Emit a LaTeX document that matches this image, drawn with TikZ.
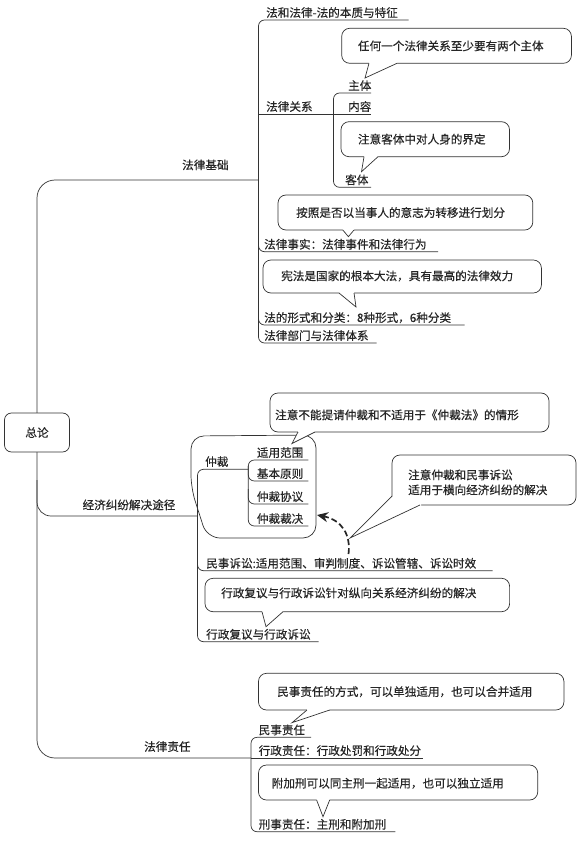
\documentclass[tikz,border=0pt]{standalone}
\usepackage{fontspec}
\newfontfamily\cjk[FakeBold=0.4]{Noto Sans CJK SC}
\usetikzlibrary{arrows.meta}
\begin{document}
\begin{tikzpicture}[x=1pt,y=-1pt,
  line/.style={draw=black!80, line width=0.7pt},
  branch/.style={line, rounded corners=6pt},
  lbl/.style={inner sep=0pt, anchor=base west, text=black!85, font=\cjk\fontsize{11.6}{14}\selectfont},
  notebox/.style={line, rounded corners=8pt, fill=white},
  rootbox/.style={line, rounded corners=7pt, fill=white, minimum width=65pt, minimum height=39pt, inner sep=0pt, text=black!85, font=\cjk\fontsize{11.6}{14}\selectfont},
]
\useasboundingbox (0,0) rectangle (580,842);

% main spine
\draw[branch, rounded corners=18pt] (258.5,180) -| (37,758) -- (251,758);
\draw[branch, rounded corners=14pt] (37,480) |- (197.5,516);
\node[rootbox] (root) at (37,432.5) {总论};
\node[lbl] (jc) at (182,169.3) {法律基础};
\node[lbl] (jj) at (82.4,509.3) {经济纠纷解决途径};
\node[lbl] (zr) at (144,751) {法律责任};

% 法律基础
\draw[branch] (408.5,20) -| (258.5,343) -- (376.5,343);
\draw[line] (258.5,114) -- (371,114);
\draw[branch] (258.5,230) |- (438,251.7);
\draw[branch] (258.5,300) |- (464.6,325);
\draw[branch] (371,93) -| (333.5,187.3) -- (371,187.3);
\node[lbl] (fl) at (266,17) {法和法律-法的本质与特征};
\node[lbl] (gx) at (266,111) {法律关系};
\node[lbl] (zt) at (348,90) {主体};
\node[lbl] (nr) at (348,111) {内容};
\node[lbl] (kt) at (345,184.3) {客体};
\node[lbl] (sj) at (264,248.7) {法律事实：法律事件和法律行为};
\node[lbl] (xs) at (264,322) {法的形式和分类：8种形式，6种分类};
\node[lbl] (bm) at (264,340) {法律部门与法律体系};

\draw[notebox] (341.7,28.3) rectangle (571.4,63.3);
\fill[white] (369,61.5) -- (369,63.3) -- (365,78) -- (397,63.3) -- (397,61.5) -- cycle;
\draw[line] (369,63.3) -- (365,78) -- (397,63.3);
\node[lbl] (n1) at (357.8,50.3) {任何一个法律关系至少要有两个主体};

\draw[notebox] (341,121.7) rectangle (509.5,156.7);
\fill[white] (364,155) -- (364,156.7) -- (361.5,171.7) -- (378,156.7) -- (378,155) -- cycle;
\draw[line] (364,156.7) -- (361.5,171.7) -- (378,156.7);
\node[lbl] (n2) at (357.8,143.6) {注意客体中对人身的界定};

\draw[notebox] (278,195) rectangle (532.8,230);
\fill[white] (342.8,228.3) -- (342.8,230) -- (348.4,236.7) -- (354,230) -- (354,228.3) -- cycle;
\draw[line] (342.8,230) -- (348.4,236.7) -- (354,230);
\node[lbl] (n3) at (296,217) {按照是否以当事人的意志为转移进行划分};

\draw[notebox] (263,260) rectangle (541.4,293);
\fill[white] (339,291.3) -- (339,293) -- (356,307) -- (354,293) -- (354,291.3) -- cycle;
\draw[line] (339,293) -- (356,307) -- (354,293);
\node[lbl] (n4) at (281,280.3) {宪法是国家的根本大法，具有最高的法律效力};

% 经济纠纷解决途径
\draw[line, rounded corners=13pt] (191,488) -- (191,436) -- (316,435) -- (316,538) -- (207,538) -- cycle;
\draw[branch] (248.3,469.3) -| (197.5,641.7) -- (318.5,641.7);
\draw[branch] (197.5,550) |- (492.7,570.7);
\draw[branch] (308.3,460) -| (248.3,526) -- (308.3,526);
\draw[branch] (248.3,466) |- (308.3,481);
\draw[branch] (248.3,489) |- (308.3,504);
\node[lbl] (zc) at (205,466) {仲裁};
\node[lbl] (zc1) at (256.7,457) {适用范围};
\node[lbl] (zc2) at (256.7,478) {基本原则};
\node[lbl] (zc3) at (256.7,501) {仲裁协议};
\node[lbl] (zc4) at (256.7,523) {仲裁裁决};
\node[lbl] (ms) at (206,567.7) {民事诉讼:适用范围、审判制度、诉讼管辖、诉讼时效};
\node[lbl] (xz) at (206,638.7) {行政复议与行政诉讼};

\draw[notebox] (270,393) rectangle (549,432);
\fill[white] (298,430.3) -- (298,432) -- (292,443.5) -- (315,432) -- (315,430.3) -- cycle;
\draw[line] (298,432) -- (292,443.5) -- (315,432);
\node[lbl] (n5) at (275,419.3) {注意不能提请仲裁和不适用于《仲裁法》的情形};

\draw[notebox] (392,455) rectangle (576,505);
\fill[white] (393,496) -- (340,545) -- (421,506) -- (421,501) -- cycle;
\draw[line] (392,496) -- (350,538) -- (420,505);
\node[lbl] (n6a) at (408,479.3) {注意仲裁和民事诉讼};
\node[lbl] (n6b) at (408,494.3) {适用于横向经济纠纷的解决};

\coordinate (dA) at (348.5,554);
\coordinate (dB) at (317,515);
\draw[line, draw=black!85, line width=1.7pt, dash pattern=on 6pt off 3pt, -{Stealth[length=11pt,width=10pt]}] (dA) .. controls (351,535) and (342,520) .. (dB);

\draw[notebox] (205,578.3) rectangle (509.6,611.7);
\fill[white] (262,610) -- (262,611.7) -- (266,626.7) -- (283,611.7) -- (283,610) -- cycle;
\draw[line] (262,611.7) -- (266,626.7) -- (283,611.7);
\node[lbl] (n7) at (221,597.3) {行政复议与行政诉讼针对纵向关系经济纠纷的解决};

% 法律责任
\draw[branch] (311,737.3) -| (251,831.7) -- (395.3,831.7);
\draw[line] (251,758) -- (423.4,758);
\node[lbl] (mr) at (258.5,734.3) {民事责任};
\node[lbl] (xr) at (258.5,755) {行政责任：行政处罚和行政处分};
\node[lbl] (xsr) at (258.5,828.7) {刑事责任：主刑和附加刑};

\draw[notebox] (258.5,673.3) rectangle (563.9,710);
\fill[white] (307,708.3) -- (307,710) -- (292,722.7) -- (329.7,710) -- (329.7,708.3) -- cycle;
\draw[line] (307,710) -- (292,722.7) -- (329.7,710);
\node[lbl] (n8) at (277,696) {民事责任的方式，可以单独适用，也可以合并适用};

\draw[notebox] (258.5,765) rectangle (537.7,800);
\fill[white] (316.6,798.3) -- (316.6,800) -- (323,816.7) -- (329.7,800) -- (329.7,798.3) -- cycle;
\draw[line] (316.6,800) -- (323,816.7) -- (329.7,800);
\node[lbl] (n9) at (271.6,787.6) {附加刑可以同主刑一起适用，也可以独立适用};
\end{tikzpicture}
\end{document}
